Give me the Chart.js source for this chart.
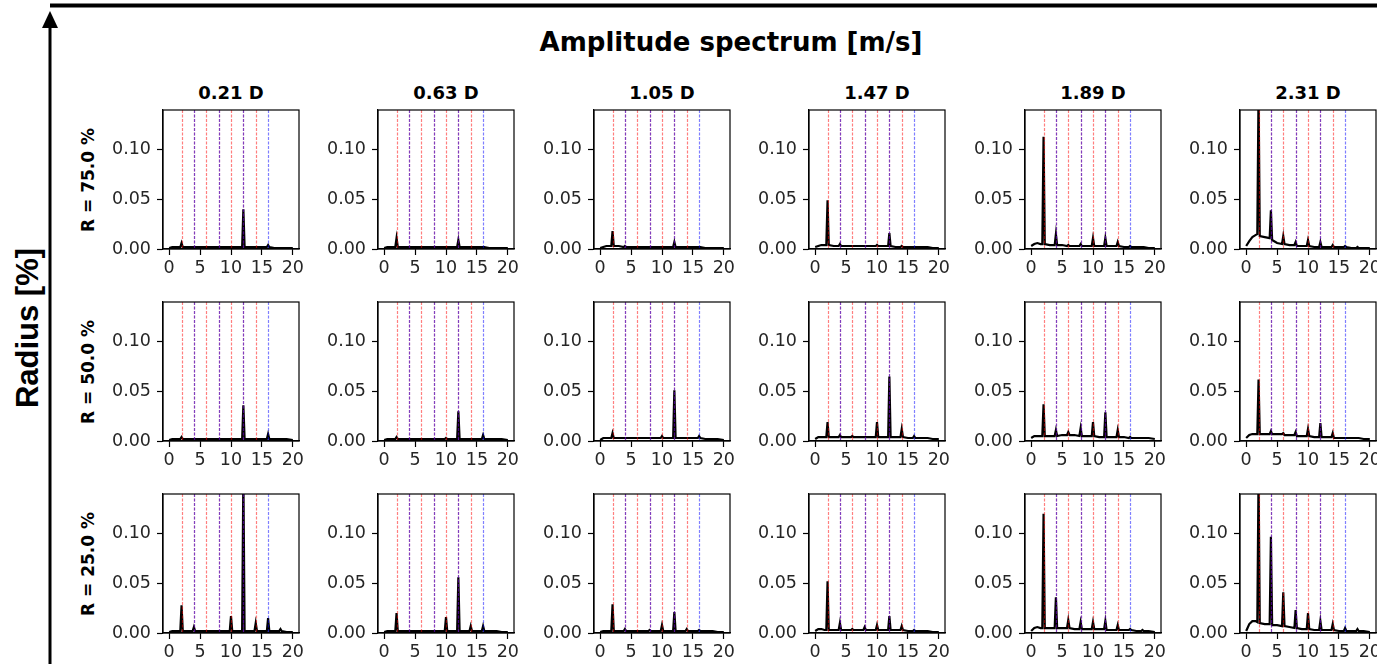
<!DOCTYPE html>
<html>
<head>
<meta charset="utf-8">
<script src="https://cdn.jsdelivr.net/npm/chart.js@4.4.1/dist/chart.umd.min.js"></script>
<style>
  html, body { margin: 0; padding: 0; background: #fff; }
  #wrap { position: relative; width: 1377px; height: 664px; overflow: hidden; background: #fff; }
  canvas { position: absolute; }
  .lbl { position: absolute; white-space: nowrap; color: #000; transform: translate(-50%, -50%); }
</style>
</head>
<body>
<div id="wrap">
  <svg width="1377" height="664" style="position:absolute;left:0;top:0">
    <line x1="50" y1="5.5" x2="1377" y2="5.5" stroke="#000" stroke-width="4"/>
    <line x1="50" y1="26" x2="50" y2="664" stroke="#000" stroke-width="3"/>
    <polygon points="50,11 42,28 58,28" fill="#000"/>
  </svg>
</div>
<script>
// ---- labels ----
const mainTitle = "Amplitude spectrum [m/s]";
const sideTitle = "Radius [%]";
const distances = ["0.21", "0.63", "1.05", "1.47", "1.89", "2.31"];
const radii = ["75.0", "50.0", "25.0"];

// ---- axes ----
const xTicks = [0, 5, 10, 15, 20];
const yTicks = [0.00, 0.05, 0.10];
const redLines = [2, 4, 6, 8, 10, 12, 14];
const blueLines = [4, 8, 12, 16];

// ---- frequency samples shared by every panel ----
const freqs = [0, 0.5, 1, 1.5,
  1.8, 2, 2.2, 3,
  3.8, 4, 4.2, 5,
  5.8, 6, 6.2, 7,
  7.8, 8, 8.2, 9,
  9.8, 10, 10.2, 11,
  11.8, 12, 12.2, 13,
  13.8, 14, 14.2, 15,
  15.8, 16, 16.2, 17,
  17.8, 18, 18.2,
  19, 20];

// ---- R = 75 % ----
const r75_d021 = [0.001,0.002,0.002,0.002, 0.002,0.006,0.002,0.002, 0.002,0.002,0.002,0.002, 0.002,0.002,0.002,0.002, 0.002,0.002,0.002,0.002, 0.002,0.002,0.002,0.002, 0.002,0.040,0.002,0.002, 0.002,0.002,0.002,0.002, 0.002,0.004,0.002,0.001, 0.001,0.001,0.001, 0.001,0.001];
const r75_d063 = [0.001,0.002,0.002,0.002, 0.002,0.011,0.002,0.002, 0.002,0.002,0.002,0.002, 0.002,0.002,0.002,0.002, 0.002,0.002,0.002,0.002, 0.002,0.002,0.002,0.002, 0.002,0.009,0.002,0.002, 0.002,0.002,0.002,0.002, 0.002,0.002,0.002,0.001, 0.001,0.001,0.001, 0.001,0.001];
const r75_d105 = [0.001,0.002,0.003,0.003, 0.003,0.018,0.003,0.003, 0.002,0.003,0.002,0.002, 0.002,0.002,0.002,0.002, 0.002,0.002,0.002,0.002, 0.002,0.002,0.002,0.002, 0.002,0.007,0.002,0.002, 0.002,0.002,0.002,0.002, 0.002,0.002,0.002,0.001, 0.001,0.001,0.001, 0.001,0.001];
const r75_d147 = [0.002,0.003,0.004,0.004, 0.004,0.049,0.004,0.003, 0.003,0.005,0.003,0.003, 0.003,0.003,0.003,0.003, 0.003,0.003,0.003,0.003, 0.003,0.004,0.003,0.003, 0.003,0.016,0.003,0.002, 0.002,0.003,0.002,0.002, 0.002,0.002,0.002,0.002, 0.002,0.002,0.002, 0.001,0.001];
const r75_d189 = [0.003,0.005,0.006,0.005, 0.005,0.113,0.005,0.004, 0.004,0.015,0.004,0.004, 0.003,0.004,0.003,0.003, 0.003,0.005,0.003,0.003, 0.003,0.011,0.003,0.003, 0.003,0.011,0.003,0.003, 0.003,0.007,0.003,0.002, 0.002,0.003,0.002,0.002, 0.002,0.002,0.002, 0.001,0.001];
const r75_d231 = [0.003,0.008,0.012,0.014, 0.015,0.160,0.013,0.012, 0.011,0.039,0.009,0.006, 0.005,0.013,0.005,0.004, 0.004,0.007,0.003,0.003, 0.003,0.009,0.003,0.002, 0.002,0.007,0.002,0.002, 0.002,0.004,0.002,0.002, 0.002,0.003,0.002,0.001, 0.001,0.002,0.001, 0.001,0.001];

// ---- R = 50 % ----
const r50_d021 = [0.001,0.002,0.002,0.002, 0.002,0.004,0.002,0.002, 0.002,0.002,0.002,0.002, 0.002,0.002,0.002,0.002, 0.002,0.002,0.002,0.002, 0.002,0.002,0.002,0.002, 0.002,0.036,0.002,0.002, 0.002,0.002,0.002,0.002, 0.002,0.007,0.002,0.002, 0.002,0.002,0.002, 0.002,0.001];
const r50_d063 = [0.001,0.002,0.002,0.002, 0.002,0.004,0.002,0.002, 0.002,0.002,0.002,0.002, 0.002,0.002,0.002,0.002, 0.002,0.002,0.002,0.002, 0.002,0.003,0.002,0.002, 0.002,0.030,0.002,0.002, 0.002,0.002,0.002,0.002, 0.002,0.006,0.002,0.002, 0.002,0.002,0.002, 0.002,0.001];
const r50_d105 = [0.001,0.003,0.003,0.003, 0.003,0.008,0.003,0.003, 0.003,0.003,0.003,0.003, 0.003,0.003,0.003,0.003, 0.003,0.003,0.003,0.003, 0.003,0.005,0.003,0.003, 0.003,0.051,0.003,0.003, 0.003,0.003,0.003,0.003, 0.003,0.005,0.003,0.002, 0.002,0.002,0.002, 0.002,0.001];
const r50_d147 = [0.002,0.004,0.004,0.004, 0.004,0.019,0.004,0.004, 0.004,0.006,0.004,0.004, 0.004,0.005,0.004,0.004, 0.004,0.004,0.004,0.004, 0.004,0.019,0.004,0.004, 0.004,0.065,0.004,0.004, 0.004,0.012,0.004,0.003, 0.003,0.005,0.003,0.003, 0.003,0.003,0.003, 0.002,0.002];
const r50_d189 = [0.003,0.005,0.005,0.005, 0.005,0.037,0.005,0.005, 0.005,0.011,0.005,0.006, 0.006,0.009,0.006,0.006, 0.005,0.013,0.005,0.005, 0.005,0.019,0.005,0.004, 0.004,0.029,0.004,0.004, 0.004,0.011,0.004,0.004, 0.003,0.004,0.003,0.003, 0.003,0.003,0.003, 0.003,0.002];
const r50_d231 = [0.003,0.006,0.007,0.007, 0.007,0.062,0.007,0.007, 0.007,0.010,0.007,0.007, 0.007,0.008,0.006,0.006, 0.006,0.009,0.005,0.005, 0.005,0.012,0.005,0.004, 0.004,0.018,0.004,0.004, 0.004,0.008,0.003,0.003, 0.003,0.003,0.003,0.003, 0.003,0.003,0.003, 0.002,0.002];

// ---- R = 25 % ----
const r25_d021 = [0.001,0.002,0.002,0.002, 0.002,0.028,0.002,0.002, 0.002,0.006,0.002,0.002, 0.002,0.002,0.002,0.002, 0.002,0.002,0.002,0.002, 0.002,0.017,0.002,0.002, 0.002,0.160,0.002,0.002, 0.002,0.010,0.002,0.002, 0.002,0.015,0.002,0.002, 0.002,0.004,0.002, 0.001,0.001];
const r25_d063 = [0.001,0.002,0.002,0.002, 0.002,0.020,0.002,0.002, 0.002,0.002,0.002,0.002, 0.002,0.002,0.002,0.002, 0.002,0.002,0.002,0.002, 0.002,0.016,0.002,0.002, 0.002,0.056,0.002,0.002, 0.002,0.007,0.002,0.002, 0.002,0.007,0.002,0.002, 0.002,0.002,0.002, 0.001,0.001];
const r25_d105 = [0.001,0.002,0.002,0.002, 0.002,0.029,0.002,0.002, 0.002,0.004,0.002,0.002, 0.002,0.002,0.002,0.002, 0.002,0.003,0.002,0.002, 0.002,0.008,0.002,0.002, 0.002,0.021,0.002,0.002, 0.002,0.004,0.002,0.002, 0.002,0.003,0.002,0.002, 0.002,0.002,0.002, 0.001,0.001];
const r25_d147 = [0.002,0.004,0.004,0.003, 0.003,0.052,0.003,0.003, 0.003,0.010,0.003,0.003, 0.003,0.004,0.003,0.003, 0.003,0.006,0.003,0.003, 0.003,0.008,0.003,0.003, 0.003,0.017,0.003,0.003, 0.003,0.007,0.003,0.002, 0.002,0.003,0.002,0.002, 0.002,0.002,0.002, 0.001,0.001];
const r25_d189 = [0.002,0.005,0.006,0.005, 0.005,0.120,0.005,0.005, 0.005,0.036,0.005,0.005, 0.005,0.013,0.005,0.004, 0.004,0.011,0.004,0.004, 0.004,0.011,0.004,0.004, 0.004,0.012,0.003,0.003, 0.003,0.008,0.003,0.003, 0.003,0.004,0.003,0.002, 0.002,0.003,0.002, 0.002,0.001];
const r25_d231 = [0.002,0.009,0.012,0.012, 0.011,0.160,0.010,0.009, 0.009,0.097,0.008,0.008, 0.007,0.041,0.007,0.006, 0.005,0.023,0.005,0.004, 0.004,0.020,0.004,0.003, 0.003,0.012,0.003,0.003, 0.003,0.009,0.003,0.002, 0.002,0.005,0.002,0.002, 0.002,0.004,0.002, 0.002,0.001];

const spectra = [
  [r75_d021, r75_d063, r75_d105, r75_d147, r75_d189, r75_d231],
  [r50_d021, r50_d063, r50_d105, r50_d147, r50_d189, r50_d231],
  [r25_d021, r25_d063, r25_d105, r25_d147, r25_d189, r25_d231]
];

// ---- layout (pixels) ----
const plotLeft = [163, 378, 594, 809, 1025, 1240];
const plotTop = [110, 302, 494];
const plotW = 136, plotH = 139;
const yAxisW = 58, xAxisH = 30, padTop = 5, padRight = 5;

const wrap = document.getElementById('wrap');

function addLabel(text, cx, cy, css, rotate) {
  const d = document.createElement('div');
  d.className = 'lbl';
  d.textContent = text;
  d.style.left = cx + 'px';
  d.style.top = cy + 'px';
  Object.assign(d.style, css);
  if (rotate) d.style.transform = 'translate(-50%, -50%) rotate(-90deg)';
  wrap.appendChild(d);
}

addLabel(mainTitle, 731, 42, {fontFamily: '"DejaVu Sans", sans-serif', fontWeight: 'bold', fontSize: '26px'});
addLabel(sideTitle, 28, 328, {fontFamily: '"Liberation Sans", Arial, sans-serif', fontWeight: 'bold', fontSize: '31px'}, true);
distances.forEach((d, c) => addLabel(d + " D", plotLeft[c] + plotW / 2, 92, {fontFamily: '"DejaVu Sans", sans-serif', fontWeight: 'bold', fontSize: '18px'}));
radii.forEach((r, i) => addLabel("R = " + r + " %", 88, plotTop[i] + plotH / 2, {fontFamily: '"DejaVu Sans", sans-serif', fontWeight: 'bold', fontSize: '17px'}, true));

const decor = {
  id: 'decor',
  afterDatasetsDraw(chart) {
    const {ctx, chartArea: a, scales: {x}} = chart;
    ctx.save();
    ctx.beginPath();
    ctx.rect(a.left, a.top, a.width, a.height);
    ctx.clip();
    ctx.lineWidth = 1.2;
    ctx.setLineDash([3, 1.5]);
    const draw = (vals, col) => {
      ctx.strokeStyle = col;
      vals.forEach(v => {
        const px = Math.round(x.getPixelForValue(v)) + 0.5;
        ctx.beginPath();
        ctx.moveTo(px, a.top);
        ctx.lineTo(px, a.bottom);
        ctx.stroke();
      });
    };
    draw(redLines, 'rgba(255,0,0,0.5)');
    draw(blueLines, 'rgba(0,0,255,0.5)');
    ctx.restore();
  },
  afterDraw(chart) {
    const {ctx, chartArea: a} = chart;
    ctx.save();
    ctx.strokeStyle = '#000';
    ctx.lineWidth = 1.2;
    ctx.strokeRect(a.left, a.top, a.width, a.height);
    ctx.restore();
  }
};

const tickFont = {family: '"DejaVu Sans", sans-serif', size: 17.5};

for (let r = 0; r < 3; r++) {
  for (let c = 0; c < 6; c++) {
    const cv = document.createElement('canvas');
    const W = yAxisW + plotW + padRight, H = padTop + plotH + xAxisH;
    cv.width = W; cv.height = H;
    cv.style.left = (plotLeft[c] - yAxisW) + 'px';
    cv.style.top = (plotTop[r] - padTop) + 'px';
    cv.style.width = W + 'px'; cv.style.height = H + 'px';
    wrap.appendChild(cv);
    const vals = spectra[r][c];
    new Chart(cv, {
      type: 'line',
      data: {
        datasets: [{
          data: freqs.map((f, i) => ({x: f, y: vals[i]})),
          borderColor: '#000',
          borderWidth: 2.2,
          pointRadius: 0,
          tension: 0,
          fill: false
        }]
      },
      options: {
        responsive: false,
        animation: false,
        devicePixelRatio: 1,
        events: [],
        layout: {padding: {top: padTop, right: padRight, left: 0, bottom: 0}},
        plugins: {legend: {display: false}, tooltip: {enabled: false}, title: {display: false}},
        scales: {
          x: {
            type: 'linear', min: -1, max: 21,
            afterBuildTicks: s => { s.ticks = xTicks.map(v => ({value: v})); },
            afterFit: s => { s.height = xAxisH; s.paddingLeft = 0; s.paddingRight = 0; },
            ticks: {font: tickFont, color: '#262626', padding: 3, maxRotation: 0, autoSkip: false, callback: v => String(v)},
            grid: {drawOnChartArea: false, drawTicks: true, tickLength: 6, tickWidth: 1.2, color: '#000'},
            border: {display: true, color: '#000', width: 1.2}
          },
          y: {
            type: 'linear', min: 0, max: 0.14,
            afterBuildTicks: s => { s.ticks = yTicks.map(v => ({value: v})); },
            afterFit: s => { s.width = yAxisW; s.paddingTop = 0; s.paddingBottom = 0; },
            ticks: {font: tickFont, color: '#262626', padding: 6, autoSkip: false, callback: v => Number(v).toFixed(2)},
            grid: {drawOnChartArea: false, drawTicks: true, tickLength: 6, tickWidth: 1.2, color: '#000'},
            border: {display: true, color: '#000', width: 1.2}
          }
        }
      },
      plugins: [decor]
    });
  }
}
</script>
</body>
</html>
